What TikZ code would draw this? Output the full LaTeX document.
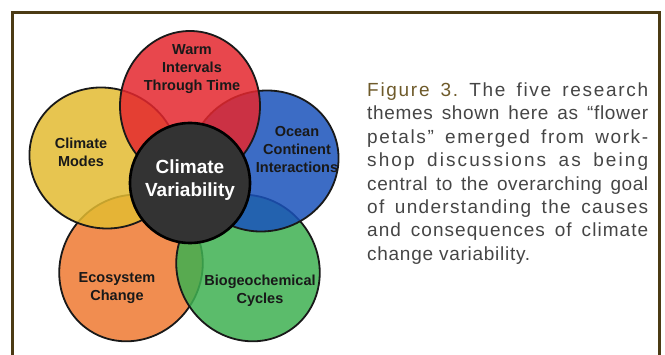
\documentclass[tikz,border=0pt]{standalone}
\usepackage{fontspec}
\setmainfont{Liberation Sans}
\newfontfamily\capfont{Liberation Sans}
\usepackage{tikz}
\usetikzlibrary{shapes.geometric}
\definecolor{frameBrown}{HTML}{4B3B14}
\definecolor{figBrown}{HTML}{6E5A2A}
\definecolor{capGray}{HTML}{454545}
\definecolor{petalRed}{HTML}{E4272E}
\definecolor{petalYellow}{HTML}{E3BB31}
\definecolor{petalBlue}{HTML}{1A52BB}
\definecolor{petalOrange}{HTML}{EE7931}
\definecolor{petalGreen}{HTML}{3EB051}
\definecolor{hubGray}{HTML}{333333}
\tikzset{
	flower/.style={x=1pt, y=-1pt},
	petal/.style={ellipse, draw=black!90, line width=1.8pt, fill=#1, fill opacity=.85,
		minimum width=140pt, minimum height=150pt, inner sep=0pt},
	petal label/.style={font=\fontsize{14.5}{18}\selectfont\bfseries, align=center, text=black!90},
	hub/.style={circle, draw=black, line width=2.6pt, fill=hubGray, minimum size=120pt, inner sep=0pt},
	hub label/.style={font=\fontsize{19}{23}\selectfont\bfseries, align=center, text=white},
	caption/.style={font=\capfont\fontsize{19}{23.4}\selectfont\frenchspacing, text=capGray, align=left,
		inner sep=0pt, anchor=north west},
	frame/.style={draw=frameBrown, line width=3pt}
}
\newcommand{\capline}[2]{{\addfontfeatures{LetterSpace=#1}\makebox[281pt][s]{#2}}}

\begin{document}
\begin{tikzpicture}[flower]
	\useasboundingbox (0,0) rectangle (665,355);
	\draw[frame] (12,355) -- (12,13) -- (659,13) -- (659,355);
	\node[petal=petalOrange, rotate=144] (Eco) at (131,268) {};
	\node[petal=petalGreen, rotate=-144] (Bio) at (248,268) {};
	\node[petal=petalBlue, rotate=-72] (Ocean) at (264,161) {};
	\node[petal=petalYellow, rotate=72] (Modes) at (104,158) {};
	\node[petal=petalRed] (Warm) at (190,106) {};
	\node[hub] (Hub) at (190,183) {};
	\node[hub label] (HubText) at (190,180) {Climate\\Variability};
	\node[petal label] (WarmText) at (192,69) {Warm\\Intervals\\Through Time};
	\node[petal label] (ModesText) at (81,152) {Climate\\Modes};
	\node[petal label] (OceanText) at (297,150) {Ocean\\Continent\\Interactions};
	\node[petal label] (EcoText) at (117,288) {Ecosystem\\Change};
	\node[petal label] (BioText) at (260,291) {Biogeochemical\\Cycles};
	\node[caption] (Caption) at (367,82.5) {%
		\capline{9}{\textcolor{figBrown}{Figure 3.} The five research}\\
		\capline{3.5}{themes shown here as “flower}\\
		\capline{8.5}{petals” emerged from work-}\\
		\capline{11}{shop discussions as being}\\
		\capline{3}{central to the overarching goal}\\
		\capline{7}{of understanding the causes}\\
		\capline{5.5}{and consequences of climate}\\
		{\addfontfeatures{LetterSpace=3.8}change variability.}};
\end{tikzpicture}
\end{document}
